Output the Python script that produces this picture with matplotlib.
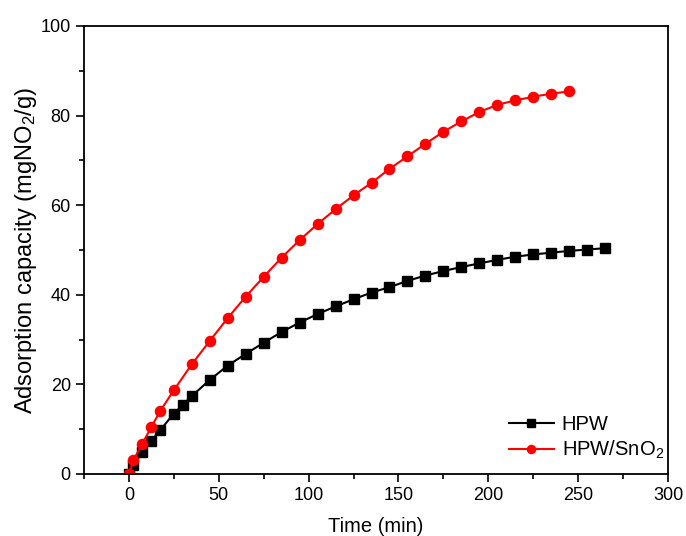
import matplotlib
matplotlib.use("Agg")
import matplotlib.pyplot as plt
from matplotlib.ticker import MultipleLocator

plt.rcParams['font.family'] = ['Liberation Sans', 'DejaVu Sans']
plt.rcParams['mathtext.fontset'] = 'custom'
plt.rcParams['mathtext.rm'] = 'Liberation Sans'
plt.rcParams['mathtext.it'] = 'Liberation Sans'

# HPW adsorption curve
hpw_time = [0, 2.5, 7.5, 12.5, 17.5, 25, 30, 35, 45, 55, 65, 75, 85, 95, 105,
            115, 125, 135, 145, 155, 165, 175, 185, 195, 205, 215, 225, 235,
            245, 255, 265]
hpw_capacity = [0, 2.0, 4.8, 7.4, 9.8, 13.5, 15.4, 17.4, 21.0, 24.2, 26.8,
                29.3, 31.7, 33.8, 35.7, 37.4, 39.0, 40.5, 41.7, 43.1, 44.3,
                45.3, 46.2, 47.0, 47.8, 48.5, 49.0, 49.4, 49.8, 50.1, 50.4]

# HPW/SnO2 adsorption curve
sno2_time = [0, 2.5, 7.5, 12.5, 17.5, 25, 35, 45, 55, 65, 75, 85, 95, 105,
             115, 125, 135, 145, 155, 165, 175, 185, 195, 205, 215, 225, 235,
             245]
sno2_capacity = [0, 3.1, 6.8, 10.5, 14.1, 18.7, 24.5, 29.7, 34.8, 39.6, 44.0,
                 48.3, 52.2, 55.8, 59.1, 62.2, 65.0, 68.1, 70.9, 73.7, 76.4,
                 78.7, 80.8, 82.4, 83.4, 84.2, 84.9, 85.4]

x_ticks = [0, 50, 100, 150, 200, 250, 300]
y_ticks = [0, 20, 40, 60, 80, 100]

fig = plt.figure(figsize=(6.86, 5.36), dpi=100)
ax = fig.add_axes([0.1224, 0.1157, 0.8514, 0.8358])

ax.plot(hpw_time, hpw_capacity, color='black', marker='s', markersize=6.5,
        linewidth=1.5, label='HPW')
ax.plot(sno2_time, sno2_capacity, color='#ff0000', marker='o', markersize=7.3,
        linewidth=1.5, label='HPW/SnO$_2$')

ax.set_xlim(-25, 300)
ax.set_ylim(0, 100)
ax.set_xticks(x_ticks)
ax.set_yticks(y_ticks)
ax.xaxis.set_minor_locator(MultipleLocator(25))
ax.yaxis.set_minor_locator(MultipleLocator(10))
ax.tick_params(axis='both', which='major', direction='out', length=6,
               width=1.2, labelsize=13, top=False, right=False)
ax.tick_params(axis='both', which='minor', direction='out', length=3.5,
               width=1.2, top=False, right=False)
for side in ax.spines.values():
    side.set_linewidth(1.3)

ax.set_xlabel('Time (min)', fontsize=14.5, labelpad=9)
ax.set_ylabel('Adsorption capacity (mgNO$_2$/g)', fontsize=17, labelpad=1)

leg = ax.legend(loc='lower right', frameon=False, fontsize=14.5,
                markerscale=0.8, handlelength=2.25, handletextpad=0.4,
                labelspacing=0.25, borderpad=0.2, borderaxespad=0.0,
                bbox_to_anchor=(1.0, 0.02))

fig.savefig('out.png', dpi=100)
